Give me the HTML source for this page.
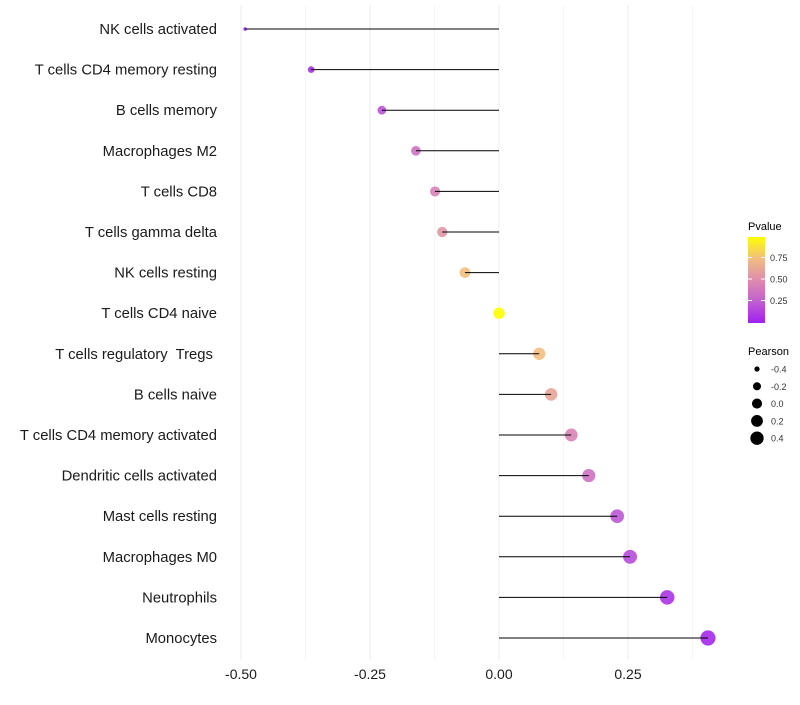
<!DOCTYPE html>
<html><head><meta charset="utf-8"><style>
body{margin:0;background:#fff;font-family:"Liberation Sans",sans-serif}
svg text{font-family:"Liberation Sans",sans-serif;white-space:pre}
</style></head><body>
<svg id="c" width="800" height="700">
<defs><linearGradient id="pg" x1="0" y1="1" x2="0" y2="0">
<stop offset="0" stop-color="#A020F0"/><stop offset="0.25" stop-color="#C060D0"/><stop offset="0.5" stop-color="#DE8CAE"/><stop offset="0.75" stop-color="#F2BE80"/><stop offset="1" stop-color="#FFFF00"/></linearGradient></defs>
<g id="grid"></g>
<g id="marks"></g>
<g id="ylab"></g>
<g id="xlab"></g>
<g>
<text x="748" y="230" font-size="11">Pvalue</text>
<rect x="748" y="237" width="17" height="86" fill="url(#pg)"/>
<g id="cbt"></g>
</g>
<g id="sizeleg">
<text x="748" y="355" font-size="11">Pearson</text>
</g>
</svg>
<script>
const categories=["NK cells activated","T cells CD4 memory resting","B cells memory","Macrophages M2","T cells CD8","T cells gamma delta","NK cells resting","T cells CD4 naive","T cells regulatory  Tregs ","B cells naive","T cells CD4 memory activated","Dendritic cells activated","Mast cells resting","Macrophages M0","Neutrophils","Monocytes"];
const pearson=[-0.492,-0.364,-0.227,-0.161,-0.124,-0.110,-0.066,0.0,0.078,0.101,0.140,0.174,0.229,0.254,0.326,0.405];
const pvalue=[0.01,0.05,0.2,0.35,0.45,0.55,0.75,1.0,0.75,0.62,0.45,0.35,0.22,0.17,0.08,0.03];
const xTicks=[-0.5,-0.25,0,0.25];
const xTickLabels=["-0.50","-0.25","0.00","0.25"];
const cbTicks=[0.25,0.5,0.75];
const sizeLegend=[-0.4,-0.2,0.0,0.2,0.4];
const sizeLegendLabels=["-0.4","-0.2","0.0","0.2","0.4"];
const NS="http://www.w3.org/2000/svg";
const X=v=>499+v*516;
const Y=i=>29+i*40.6;
const R=p=>1.08*Math.sqrt(Math.max(0.5,28.3+51.8*p));
const stops=[[0,[160,32,240]],[0.25,[192,96,208]],[0.5,[222,140,174]],[0.75,[242,190,128]],[1,[255,255,0]]];
function col(p){for(let k=0;k<stops.length-1;k++){const a=stops[k],b=stops[k+1];if(p<=b[0]){const t=(p-a[0])/(b[0]-a[0]);const c=a[1].map((v,j)=>Math.round(v+(b[1][j]-v)*t));return`rgb(${c})`;}}return"rgb(255,255,0)";}
function el(t,a,p){const e=document.createElementNS(NS,t);for(const k in a)e.setAttribute(k,a[k]);p.appendChild(e);return e;}
const grid=document.getElementById('grid');
for(let v=-0.5;v<=0.4;v+=0.125){const g=el('line',{x1:X(v),x2:X(v),y1:5,y2:660,stroke:'#ebebeb','stroke-width':Math.abs((v*4)%1)<1e-6?1:0.5},grid);

}
const marks=document.getElementById('marks'),yl=document.getElementById('ylab');
categories.forEach((c,i)=>{
const pt=el('circle',{cx:X(pearson[i]),cy:Y(i),r:R(pearson[i]),fill:col(pvalue[i]),'fill-opacity':0.9},marks);


const ln=el('line',{x1:X(0),x2:X(pearson[i]),y1:Y(i),y2:Y(i),stroke:'#000','stroke-width':1},marks);


const t=el('text',{x:217,y:Y(i)+5,'text-anchor':'end','font-size':14.8,fill:'#1a1a1a'},yl);t.textContent=c.replace(/ $/,'\u00a0');


});
const xl=document.getElementById('xlab');
xTicks.forEach((v,i)=>{const t=el('text',{x:X(v),y:679,'text-anchor':'middle','font-size':14,fill:'#1a1a1a'},xl);t.textContent=xTickLabels[i];

});
const cbt=document.getElementById('cbt');
cbTicks.forEach(v=>{const y=322-v*86;
el('line',{x1:748,x2:752,y1:y,y2:y,stroke:'#fff'},cbt);el('line',{x1:761,x2:765,y1:y,y2:y,stroke:'#fff'},cbt);
const t=el('text',{x:770,y:y+3.5,'font-size':9,fill:'#333'},cbt);t.textContent=v.toFixed(2);

});
const sl=document.getElementById('sizeleg');
sizeLegend.forEach((v,i)=>{const y=369+i*17.3;const c=el('circle',{cx:757,cy:y,r:R(v)*0.88,fill:'#000'},sl);


const t=el('text',{x:771,y:y+3.5,'font-size':9,fill:'#333'},sl);t.textContent=sizeLegendLabels[i];

});
</script>
</body></html>
